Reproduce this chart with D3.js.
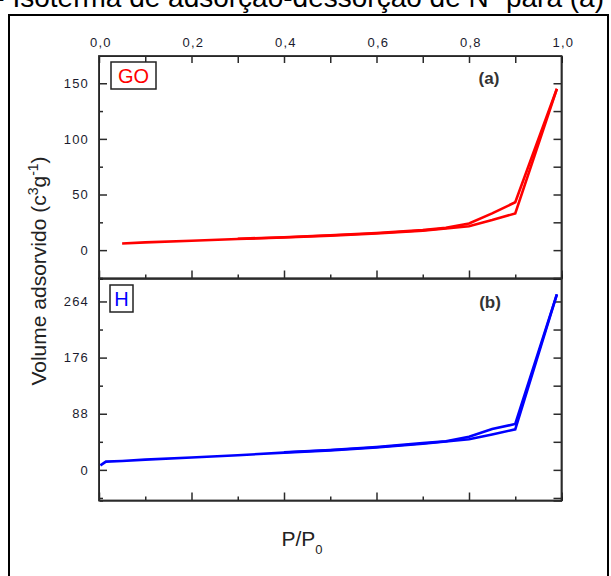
<!DOCTYPE html>
<html><head><meta charset="utf-8">
<script src="https://cdn.jsdelivr.net/npm/d3@7"></script>
<style>
html,body{margin:0;padding:0;background:#fff;}
svg{display:block;font-family:Arial,"Liberation Sans",sans-serif;}
</style>
</head><body>
<svg id="c" width="611" height="576"></svg>
<script>
// ---- data ----
const xTicks = [0, 0.2, 0.4, 0.6, 0.8, 1.0];
const xTickLabels = ["0,0", "0,2", "0,4", "0,6", "0,8", "1,0"];
const xMinor = [0.1, 0.3, 0.5, 0.7, 0.9];

const goTicks = [0, 50, 100, 150];
const goMinor = [-25, 25, 75, 125];
const hTicks = [0, 88, 176, 264];
const hMinor = [-44, 44, 132, 220];

// GO (a) adsorption / desorption
const goAdsP = [0.05, 0.10, 0.20, 0.30, 0.40, 0.50, 0.60, 0.70, 0.80, 0.85, 0.90, 0.99];
const goAdsV = [6.0, 7.0, 8.5, 10.0, 11.3, 13.0, 15.0, 17.5, 21.5, 27.0, 33.0, 145];
const goDesP = [0.99, 0.90, 0.85, 0.80, 0.75, 0.70, 0.60, 0.50, 0.40, 0.30];
const goDesV = [145, 43.0, 33.0, 24.0, 20.0, 18.0, 15.4, 13.4, 11.6, 10.2];

// H (b) adsorption / desorption
const hAdsP = [0.003, 0.015, 0.05, 0.10, 0.20, 0.30, 0.40, 0.50, 0.60, 0.70, 0.80, 0.85, 0.90, 0.99];
const hAdsV = [7, 13, 14, 16, 19.5, 23, 27, 30.5, 35, 41, 48, 55.5, 63.5, 275];
const hDesP = [0.99, 0.90, 0.85, 0.80, 0.75, 0.70, 0.60, 0.50, 0.40];
const hDesV = [275, 72, 64, 52, 45, 42, 35.8, 31.2, 27.6];

// ---- layout ----
const svg = d3.select("#c");
const left = 99, right = 561.5;
const top1 = 56, mid = 278.5, bot2 = 500.5;
const frameColor = "#2b2b2b";
const tickColor = "#1b1b2e";

const x = d3.scaleLinear().domain([0, 1]).range([left, right]);
const yA = d3.scaleLinear().domain([-25.5, 174.5]).range([mid, top1]);
const yB = d3.scaleLinear().domain([-48, 300]).range([bot2, mid]);

// outer box & caption
svg.append("rect").attr("x", 9).attr("y", 15).attr("width", 599).attr("height", 600)
  .attr("fill", "none").attr("stroke", "#000").attr("stroke-width", 2);

const cap = svg.append("text").attr("x", 604).attr("y", 6.5).attr("text-anchor", "end")
  .attr("font-size", 28).attr("fill", "#000");
cap.append("tspan").text("1 - Isoterma de adsorção-dessorção de N");
cap.append("tspan").attr("baseline-shift", "super").attr("font-size", 17).text("2");
cap.append("tspan").text(" para (a)");

function styleAxis(g) {
  g.select(".domain").remove();
  g.selectAll("line").attr("stroke", frameColor).attr("stroke-width", 1.5);
  g.selectAll("text").attr("fill", tickColor).attr("font-size", 13)
    .attr("font-family", "Arial, 'Liberation Sans', sans-serif").attr("letter-spacing", 1.2);
}

function panel(y, yTicks, yMinor, y0, y1, showTopLabels) {
  const gt = svg.append("g").attr("transform", `translate(0,${y0})`);
  if (showTopLabels) {
    gt.call(d3.axisTop(x).tickValues(xTicks).tickSize(-7).tickPadding(9)
      .tickFormat((d, i) => xTickLabels[i]));
    gt.call(g => g.selectAll(".tick text").attr("dx", "0.1em"));
    gt.append("g").call(d3.axisTop(x).tickValues(xMinor).tickSize(-7).tickFormat(""));
  }
  styleAxis(gt);
  const gb = svg.append("g").attr("transform", `translate(0,${y1})`);
  gb.call(d3.axisBottom(x).tickValues(xTicks).tickSize(-8).tickFormat(""));
  gb.append("g").call(d3.axisBottom(x).tickValues(xMinor).tickSize(-4).tickFormat(""));
  styleAxis(gb);
  const gl = svg.append("g").attr("transform", `translate(${left},0)`);
  gl.call(d3.axisLeft(y).tickValues(yTicks).tickSize(-8).tickPadding(10));
  gl.append("g").call(d3.axisLeft(y).tickValues(yMinor).tickSize(-4).tickFormat(""));
  styleAxis(gl);
  const gr = svg.append("g").attr("transform", `translate(${right},0)`);
  gr.call(d3.axisRight(y).tickValues(yTicks).tickSize(-8).tickFormat(""));
  gr.append("g").call(d3.axisRight(y).tickValues(yMinor).tickSize(-8).tickFormat(""));
  styleAxis(gr);
  svg.append("rect").attr("x", left).attr("y", y0).attr("width", right - left).attr("height", y1 - y0)
    .attr("fill", "none").attr("stroke", frameColor).attr("stroke-width", 1.8);
}

panel(yA, goTicks, goMinor, top1, mid, true);
panel(yB, hTicks, hMinor, mid, bot2, false);

function drawLine(P, V, y, color) {
  const line = d3.line().x((d, i) => x(P[i])).y((d, i) => y(V[i]));
  svg.append("path").datum(V).attr("d", line).attr("fill", "none")
    .attr("stroke", color).attr("stroke-width", 2.6).attr("stroke-linejoin", "miter");
}
drawLine(goAdsP, goAdsV, yA, "#ff0000");
drawLine(goDesP, goDesV, yA, "#ff0000");
drawLine(hAdsP, hAdsV, yB, "#0000ff");
drawLine(hDesP, hDesV, yB, "#0000ff");

// sample label boxes
svg.append("rect").attr("x", 111).attr("y", 62).attr("width", 45).attr("height", 27)
  .attr("fill", "#fff").attr("stroke", "#222").attr("stroke-width", 1.5);
svg.append("text").attr("x", 133.5).attr("y", 83).attr("text-anchor", "middle")
  .attr("font-size", 20).attr("fill", "#ff0000").text("GO");
svg.append("rect").attr("x", 110).attr("y", 285).attr("width", 23).attr("height", 27)
  .attr("fill", "#fff").attr("stroke", "#222").attr("stroke-width", 1.5);
svg.append("text").attr("x", 121.5).attr("y", 306).attr("text-anchor", "middle")
  .attr("font-size", 20).attr("fill", "#0000ff").text("H");

svg.append("text").attr("x", 489).attr("y", 84).attr("text-anchor", "middle")
  .attr("font-size", 17).attr("font-weight", "bold").attr("fill", "#333").text("(a)");
svg.append("text").attr("x", 490).attr("y", 308).attr("text-anchor", "middle")
  .attr("font-size", 17).attr("font-weight", "bold").attr("fill", "#333").text("(b)");

// axis titles
const yl = svg.append("text").attr("transform", "translate(46,271) rotate(-90)")
  .attr("text-anchor", "middle").attr("font-size", 21).attr("fill", "#222");
yl.append("tspan").text("Volume adsorvido (c");
yl.append("tspan").attr("baseline-shift", "super").attr("font-size", 14).text("3");
yl.append("tspan").text("g");
yl.append("tspan").attr("baseline-shift", "super").attr("font-size", 14).text("-1");
yl.append("tspan").text(")");

const xl = svg.append("text").attr("x", 302).attr("y", 546).attr("text-anchor", "middle")
  .attr("font-size", 21).attr("fill", "#222");
xl.append("tspan").text("P/P");
xl.append("tspan").attr("baseline-shift", "sub").attr("font-size", 13).text("0");
</script>
</body></html>
